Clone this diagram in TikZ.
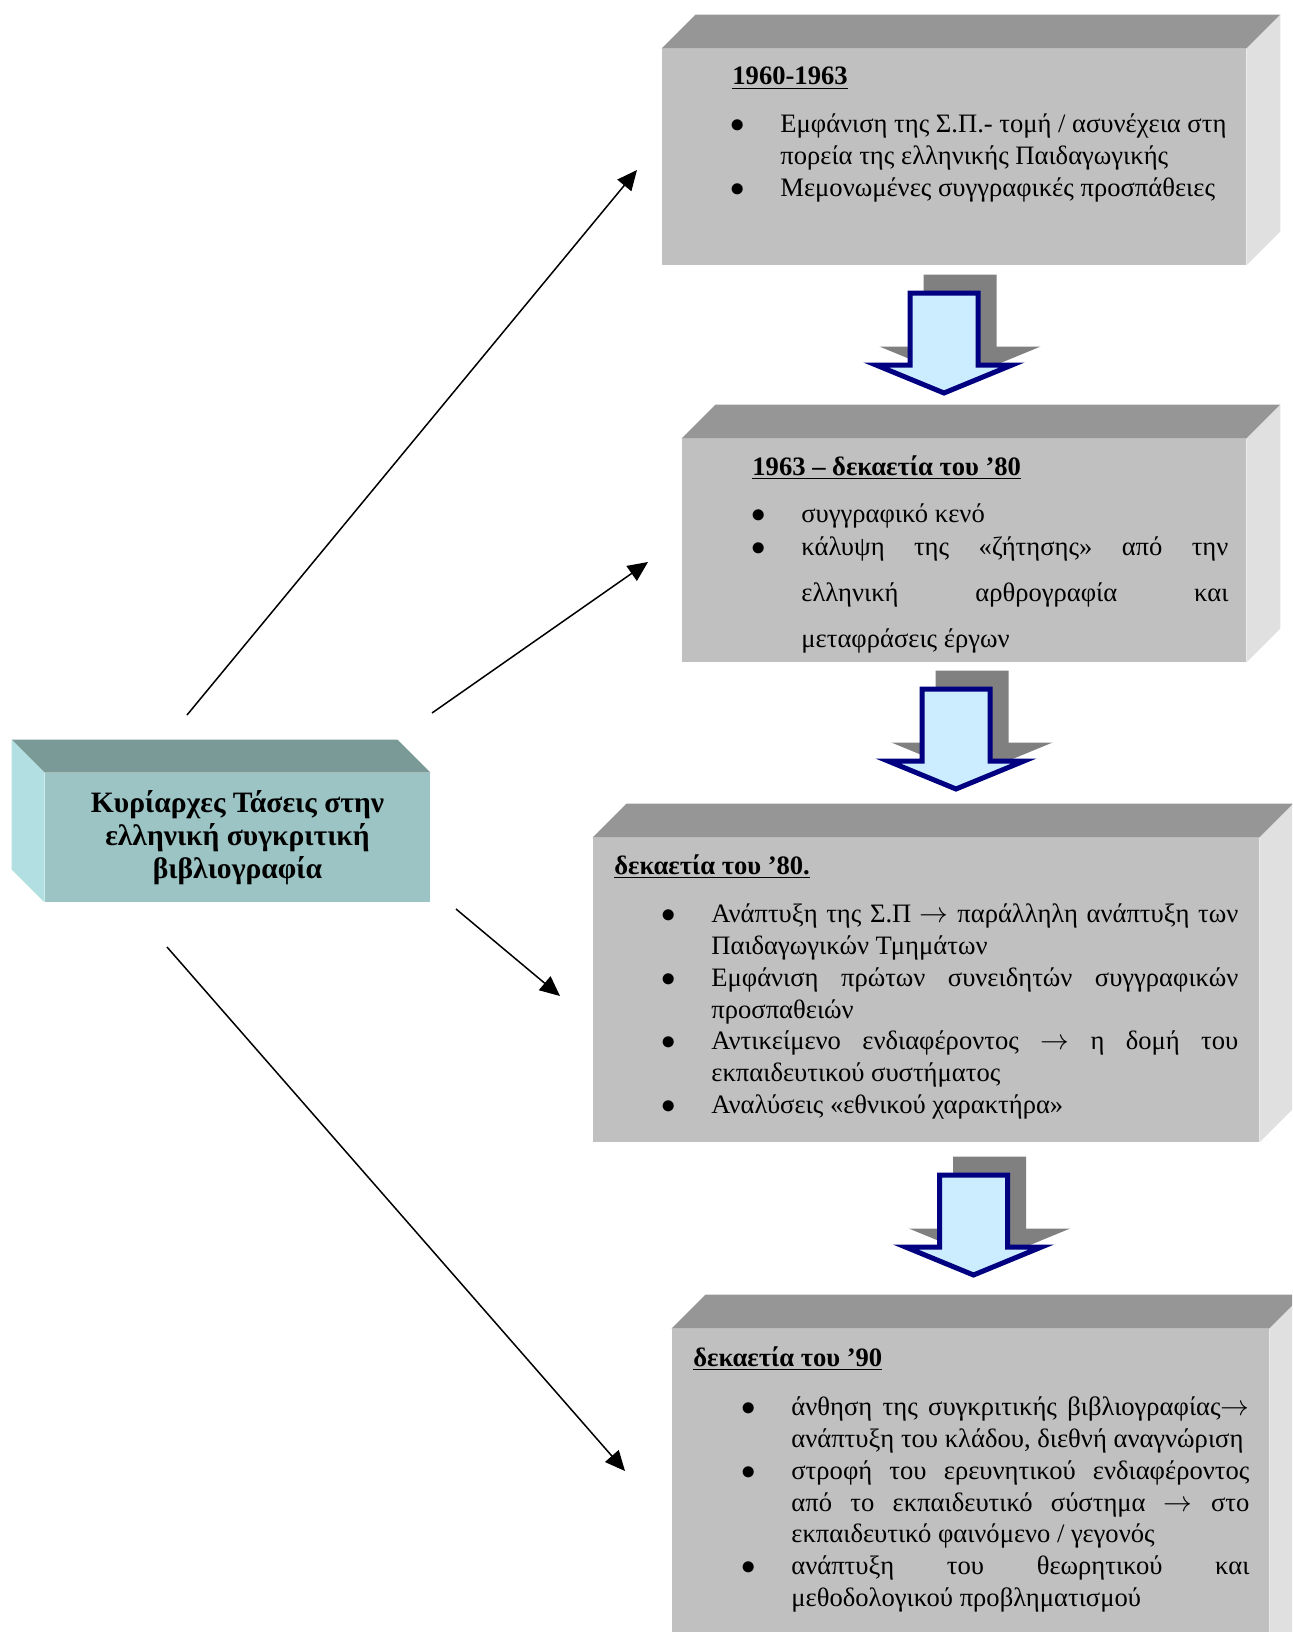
\documentclass[tikz,border=0pt]{standalone}
\usepackage{fontspec}
\setmainfont{Liberation Serif}
\usepackage{tikz}
\usetikzlibrary{arrows.meta}
\usetikzlibrary{calc}

\definecolor{frontgrey}{HTML}{C0C0C0}
\definecolor{topgrey}{HTML}{969696}
\definecolor{sidegrey}{HTML}{E0E0E0}
\definecolor{tealfront}{HTML}{9CC4C4}
\definecolor{tealtop}{HTML}{7A9A98}
\definecolor{tealside}{HTML}{B2E0E2}
\definecolor{arrowfill}{HTML}{CCECFF}
\definecolor{arrownavy}{HTML}{000080}
\definecolor{arrowshade}{HTML}{808080}

\newcommand{\bodyfont}{\fontsize{13.3}{15.85}\selectfont\tolerance=10000\hbadness=10000}
\newcommand{\bitem}{\par\noindent\hangindent=22pt\hangafter=1\hbox to 22pt{\hskip-3pt$\bullet$\hfil}\strut\ignorespaces}

\tikzset{
  front/.style = {rectangle, inner sep=0pt, fill=frontgrey},% front face
  topface/.style = {fill=topgrey},% upper face
  sideface/.style = {fill=sidegrey},% right face
  title/.style = {anchor=base west, inner sep=0pt, font=\bfseries\bodyfont},
  body/.style = {anchor=north west, inner sep=0pt, align=justify, font=\bodyfont},
  shade/.style = {fill=arrowshade, draw=arrowshade, line width=2.5pt, line join=miter},
  bigarrow/.style = {fill=arrowfill, draw=arrownavy, line width=2.5pt, line join=miter}
}

% grey box: top and right faces
\newcommand{\slab}[1]{%
  \fill[topface] (#1.north west) -- ++(34,-34) -- ([shift={(34,-34)}]#1.north east) -- (#1.north east) -- cycle;
  \fill[sideface] (#1.north east) -- ++(34,-34) -- ([shift={(34,-34)}]#1.south east) -- (#1.south east) -- cycle;}

% hollow down arrow with its shadow
\newcommand{\flowarrow}[2]{%
  \begin{scope}[shift={(#1,#2)}]
    \draw[shade] (-18,-16) -- (50,-16) -- (50,56) -- (84,56) -- (16,84) -- (-52,56) -- (-18,56) -- cycle;
    \draw[bigarrow] (-34,0) -- (34,0) -- (34,72) -- (68,72) -- (0,100) -- (-68,72) -- (-34,72) -- cycle;
  \end{scope}}

\begin{document}
\begin{tikzpicture}[x=0.5pt, y=-0.5pt, >={Triangle[length=10pt,width=9pt]}]
\useasboundingbox (0,0) rectangle (1292,1632);
\clip (0,0) rectangle (1292,1632);

% central box
\node[rectangle, inner sep=0pt, fill=tealfront, minimum width=192.5pt, minimum height=64.5pt,
  align=center, font=\bfseries\fontsize{14.8}{16.65}\selectfont] (p0) at (237.5,837.5)
  {Κυρίαρχες Τάσεις στην\\ελληνική συγκριτική\\βιβλιογραφία};
\fill[fill=tealtop] (p0.north west) -- ++(-33,-33) -- ([shift={(-33,-33)}]p0.north east) -- (p0.north east) -- cycle;
\fill[fill=tealside] (p0.north west) -- ++(-33,-33) -- ([shift={(-33,-33)}]p0.south west) -- (p0.south west) -- cycle;

% period boxes
\node[front, minimum width=292pt, minimum height=108pt] (p1) at (954,157) {};
\node[front, minimum width=282pt, minimum height=111.5pt] (p2) at (964,550.5) {};
\node[front, minimum width=333pt, minimum height=152pt] (p3) at (926,990) {};
\node[front, minimum width=298.5pt, minimum height=165.5pt] (p4) at (970.5,1494.5) {};
\slab{p1}
\slab{p2}
\slab{p3}
\slab{p4}

\flowarrow{944}{293}
\flowarrow{956}{689}
\flowarrow{973.5}{1175}

% texts
\node[title] (t1) at (732,85) {\underline{1960-1963}};
\node[body, text width=245pt] (l1) at (736,100.8) {%
  \bitem Εμφάνιση της Σ.Π.- τομή / ασυνέχεια στη\linebreak πορεία της ελληνικής Παιδαγωγικής
  \bitem Μεμονωμένες συγγραφικές προσπάθειες\par};

\node[title] (t2) at (752,475) {\underline{1963 – δεκαετία του ’80}};
\node[body, text width=235.5pt] (l2) at (757,490.8) {%
  \bitem συγγραφικό κενό\par
  {\baselineskip=23pt\vskip-6.5pt
  \bitem κάλυψη της «ζήτησης» από την\linebreak ελληνική αρθρογραφία και\linebreak μεταφράσεις έργων\par}};

\node[title] (t3) at (614,874) {\underline{δεκαετία του ’80.}};
\node[body, text width=285.5pt] (l3) at (667,890.8) {%
  \bitem Ανάπτυξη της Σ.Π $\rightarrow$ παράλληλη ανάπτυξη των\linebreak Παιδαγωγικών Τμημάτων
  \bitem Εμφάνιση πρώτων συνειδητών συγγραφικών\linebreak προσπαθειών
  \bitem Αντικείμενο ενδιαφέροντος $\rightarrow$ η δομή του\linebreak εκπαιδευτικού συστήματος
  \bitem Αναλύσεις «εθνικού χαρακτήρα»\par};

\node[title] (t4) at (693,1366) {\underline{δεκαετία του ’90}};
\node[body, text width=251pt] (l4) at (747,1383.8) {%
  \bitem άνθηση της συγκριτικής βιβλιογραφίας$\rightarrow$\linebreak ανάπτυξη του κλάδου, διεθνή αναγνώριση
  \bitem στροφή του ερευνητικού ενδιαφέροντος\linebreak από το εκπαιδευτικό σύστημα $\rightarrow$ στο\linebreak εκπαιδευτικό φαινόμενο / γεγονός
  \bitem ανάπτυξη του θεωρητικού και\linebreak μεθοδολογικού προβληματισμού\par};

% connectors
\coordinate (s1) at (187,715);
\coordinate (e1) at (637,170);
\coordinate (s2) at (432,713);
\coordinate (e2) at (648,562);
\coordinate (s3) at (456,909);
\coordinate (e3) at (560,996);
\coordinate (s4) at (167,947);
\coordinate (e4) at (625,1471);
\draw[->, line width=0.75pt] (s1) -- (e1);
\draw[->, line width=0.75pt] (s2) -- (e2);
\draw[->, line width=0.75pt] (s3) -- (e3);
\draw[->, line width=0.75pt] (s4) -- (e4);
\end{tikzpicture}
\end{document}
